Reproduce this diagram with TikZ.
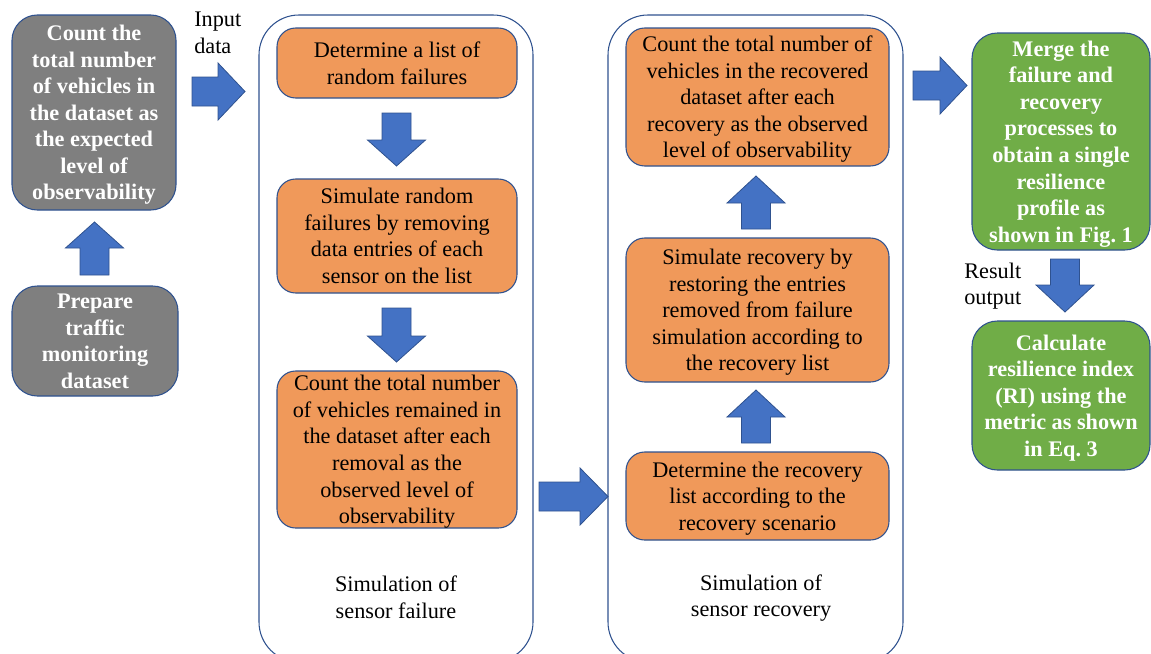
\documentclass[tikz,border=0pt]{standalone}
\usepackage{fontspec}
\setmainfont{Liberation Serif}
\definecolor{boxblue}{HTML}{2F528F}
\definecolor{arrowblue}{HTML}{4472C4}
\definecolor{grayfill}{HTML}{7F7F7F}
\definecolor{orangefill}{HTML}{F0995A}
\definecolor{greenfill}{HTML}{70AD47}
\tikzset{
  boxsize/.style 2 args={minimum width=#1*0.75pt, minimum height=#2*0.75pt},
  basebox/.style={draw=boxblue, line width=0.8pt, align=center, inner sep=0pt, text depth=0pt,
    font=\fontsize{16.7}{19.9}\selectfont},
  graybox/.style={basebox, fill=grayfill, text=white,
    font=\bfseries\fontsize{16.7}{19.9}\selectfont, rounded corners=19pt},
  greenbox/.style={basebox, fill=greenfill, text=white,
    font=\bfseries\fontsize{16.7}{19.9}\selectfont, rounded corners=19pt},
  orangebox/.style={basebox, fill=orangefill, text=black, rounded corners=14pt},
  container/.style={draw=boxblue, line width=0.8pt, rounded corners=30pt, inner sep=0pt},
  plainlabel/.style={align=center, inner sep=0pt, font=\fontsize{16.7}{19.9}\selectfont},
  blk/.style={fill=arrowblue, draw=boxblue, line width=0.6pt, line join=miter},
}
% right block arrow: shaft-left x, head-base x, tip x, centre y
\newcommand\RightBlk[4]{\draw[blk] (#1,#4-14.5) -- (#2,#4-14.5) -- (#2,#4-28.5) -- (#3,#4) -- (#2,#4+28.5) -- (#2,#4+14.5) -- (#1,#4+14.5) -- cycle;}
% vertical block arrow: centre x, shaft-end y, head-base y, tip y
\newcommand\VertBlk[4]{\draw[blk] (#1-14.5,#2) -- (#1-14.5,#3) -- (#1-29,#3) -- (#1,#4) -- (#1+29,#3) -- (#1+14.5,#3) -- (#1+14.5,#2) -- cycle;}
\begin{document}
\begin{tikzpicture}[x=0.75pt,y=-0.75pt]
\useasboundingbox (0,0) rectangle (1151,653);

% containers
\node[container, boxsize={274}{647}] (contF) at (396,338.5) {};
\node[container, boxsize={295}{647}] (contR) at (755.5,338.5) {};

% left column
\node[graybox, boxsize={164}{195}] (count) at (94,112.5)
  {Count the\\total number\\of vehicles in\\the dataset as\\the expected\\level of\\observability};
\node[graybox, boxsize={166}{110}] (prep) at (95,341)
  {Prepare\\traffic\\monitoring\\dataset};
\node[plainlabel, align=left, anchor=west] (input) at (194,33) {Input\\data};

% failure column
\node[orangebox, boxsize={240}{70}] (f1) at (397,63) {Determine a list of\\random failures};
\node[orangebox, boxsize={240}{114}] (f2) at (397,236) {Simulate random\\failures by removing\\data entries of each\\sensor on the list};
\node[orangebox, boxsize={240}{157}] (f3) at (397,449.5) {Count the total number\\of vehicles remained in\\the dataset after each\\removal as the\\observed level of\\observability};
\node[plainlabel] (simF) at (396,597.5) {Simulation of\\sensor failure};

% recovery column
\node[orangebox, boxsize={263}{138}] (r3) at (757.5,97) {Count the total number of\\vehicles in the recovered\\dataset after each\\recovery as the observed\\level of observability};
\node[orangebox, boxsize={263}{144}] (r2) at (757.5,310) {Simulate recovery by\\restoring the entries\\removed from failure\\simulation according to\\the recovery list};
\node[orangebox, boxsize={263}{88}] (r1) at (757.5,496) {Determine the recovery\\list according to the\\recovery scenario};
\node[plainlabel] (simR) at (761,598) {Simulation of\\sensor recovery};

% right column
\node[greenbox, boxsize={178}{217}] (merge) at (1061,141.5) {Merge the\\failure and\\recovery\\processes to\\obtain a single\\resilience\\profile as\\shown in Fig.~1};
\node[greenbox, boxsize={178}{149}] (calc) at (1061,395.5) {Calculate\\resilience index\\(RI) using the\\metric as shown\\in Eq.~3};
\node[plainlabel, align=left, anchor=west] (result) at (964,286) {Result\\output};

% block arrows
\VertBlk{94.5}{275}{248}{222}
\RightBlk{192}{218}{245}{91.5}
\VertBlk{396.5}{113}{140}{166}
\VertBlk{396.5}{308}{336}{362}
\RightBlk{539}{580}{608}{496.5}
\VertBlk{756}{443}{417}{390}
\VertBlk{756}{229}{203}{176}
\RightBlk{913}{940}{967}{85.5}
\VertBlk{1065}{259}{285}{312}
\end{tikzpicture}
\end{document}
